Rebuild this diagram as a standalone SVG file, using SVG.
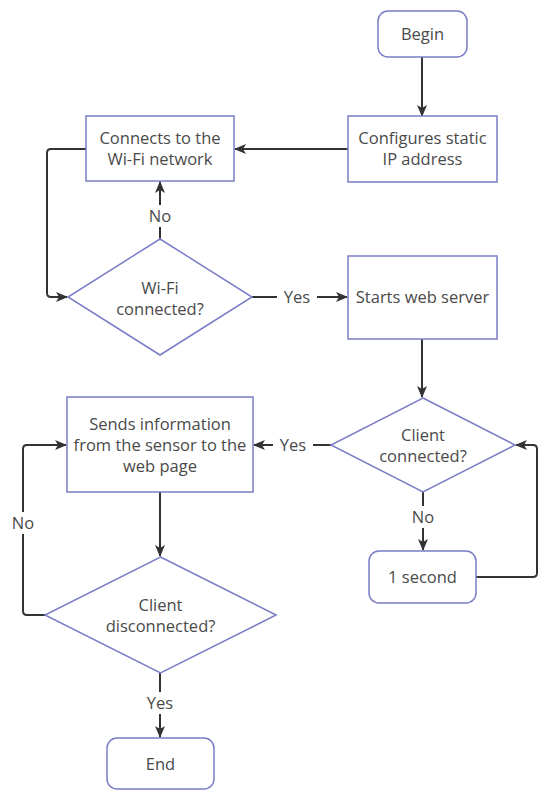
<svg xmlns="http://www.w3.org/2000/svg" width="549" height="790" viewBox="0 0 549 790">
<defs>
<marker id="arr" viewBox="0 0 12 12" refX="11" refY="6" markerWidth="12" markerHeight="12" markerUnits="userSpaceOnUse" orient="auto">
<path d="M0,1 L12,6 L0,11 L3,6 Z" fill="#333"/>
</marker>
</defs>
<style>
.node{fill:#fff;stroke:#7a7dc6;stroke-width:1.5}
.t{font-family:"Open Sans","Noto Sans",sans-serif;font-size:16.5px;fill:#4a4a4a;text-anchor:middle}
.c{fill:none;stroke:#333;stroke-width:2}
.lb{fill:#fff}
</style>
<rect width="549" height="790" fill="#fff"/>
<g id="connectors">
<path class="c" d="M422,57 V116" marker-end="url(#arr)"/>
<path class="c" d="M348,149 H235" marker-end="url(#arr)"/>
<path class="c" d="M86,149 H51 Q47,149 47,153 V293 Q47,297 51,297 H67" marker-end="url(#arr)"/>
<path class="c" d="M160,239 V182" marker-end="url(#arr)"/>
<path class="c" d="M252,297 H347" marker-end="url(#arr)"/>
<path class="c" d="M422,339 V397" marker-end="url(#arr)"/>
<path class="c" d="M423,492 V550" marker-end="url(#arr)"/>
<path class="c" d="M476,577 H533 Q537,577 537,573 V449 Q537,445 533,445 H516" marker-end="url(#arr)"/>
<path class="c" d="M331,445 H254" marker-end="url(#arr)"/>
<path class="c" d="M160,492 V556" marker-end="url(#arr)"/>
<path class="c" d="M45,615 H27 Q23,615 23,611 V449 Q23,445 27,445 H66" marker-end="url(#arr)"/>
<path class="c" d="M160,673 V737" marker-end="url(#arr)"/>
<rect class="lb" x="147" y="205" width="26" height="22"/>
<text class="t" x="160" y="222">No</text>
<rect class="lb" x="277" y="286" width="40" height="22"/>
<text class="t" x="297" y="303">Yes</text>
<rect class="lb" x="410" y="506" width="26" height="22"/>
<text class="t" x="423" y="523">No</text>
<rect class="lb" x="273" y="434" width="40" height="22"/>
<text class="t" x="293" y="451">Yes</text>
<rect class="lb" x="10" y="512" width="26" height="22"/>
<text class="t" x="23" y="529">No</text>
<rect class="lb" x="140" y="692" width="40" height="22"/>
<text class="t" x="160" y="709">Yes</text>
</g>
<g id="begin">
<rect class="node" x="378" y="11" width="89" height="46" rx="10"/>
<text class="t" x="422.5" y="40">Begin</text>
</g>
<g id="configures">
<rect class="node" x="348" y="116" width="149" height="66"/>
<text class="t" x="422.5" y="144">Configures static</text>
<text class="t" x="422.5" y="165">IP address</text>
</g>
<g id="connects">
<rect class="node" x="86" y="116" width="148" height="65"/>
<text class="t" x="160" y="144">Connects to the</text>
<text class="t" x="160" y="165">Wi-Fi network</text>
</g>
<g id="wifi">
<polygon class="node" points="160,239 252,297 160,355 68,297"/>
<text class="t" x="160" y="294">Wi-Fi</text>
<text class="t" x="160" y="315">connected?</text>
</g>
<g id="starts">
<rect class="node" x="348" y="256" width="149" height="83"/>
<text class="t" x="422.5" y="303">Starts web server</text>
</g>
<g id="client-connected">
<polygon class="node" points="423,398 515,445 423,492 331,445"/>
<text class="t" x="423" y="441">Client</text>
<text class="t" x="423" y="462">connected?</text>
</g>
<g id="one-second">
<rect class="node" x="369" y="551" width="107" height="52" rx="10"/>
<text class="t" x="422.5" y="583">1 second</text>
</g>
<g id="sends">
<rect class="node" x="67" y="397" width="186" height="95"/>
<text class="t" x="160" y="430">Sends information</text>
<text class="t" x="160" y="451">from the sensor to the</text>
<text class="t" x="160" y="472">web page</text>
</g>
<g id="client-disconnected">
<polygon class="node" points="160.5,557 276,615 160.5,673 45,615"/>
<text class="t" x="160.5" y="611">Client</text>
<text class="t" x="160.5" y="632">disconnected?</text>
</g>
<g id="end">
<rect class="node" x="107" y="738" width="107" height="51" rx="10"/>
<text class="t" x="160.5" y="770">End</text>
</g>
</svg>
